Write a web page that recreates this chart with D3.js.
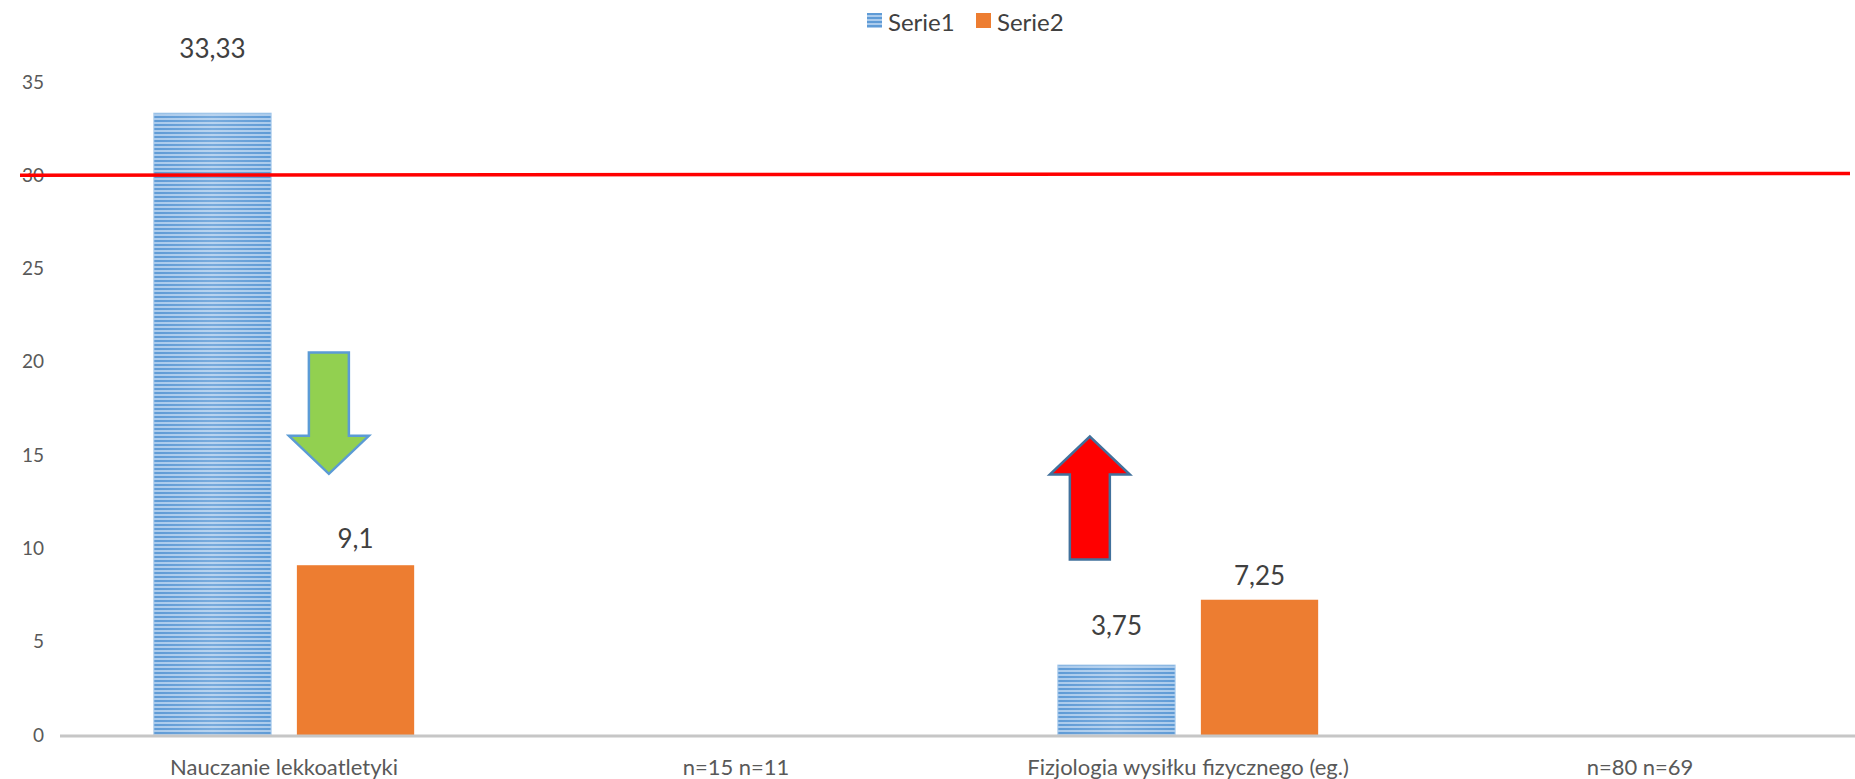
<!DOCTYPE html>
<html>
<head>
<meta charset="utf-8">
<script src="https://cdn.jsdelivr.net/npm/d3@7"></script>
<style>
    body { margin: 0; background: #fff; }
    svg { display: block; font-family: Lato, "Open Sans", sans-serif; }
</style>
</head>
<body>
<svg id="chart"></svg>
<script>
"use strict";

// Chart data
const categories = ["Nauczanie lekkoatletyki", "n=15 n=11", "Fizjologia wysiłku fizycznego (eg.)", "n=80 n=69"];
const seriesNames = ["Serie1", "Serie2"];
const serie1 = [33.33, null, 3.75, null];
const serie2 = [9.1, null, 7.25, null];
const yTicks = [0, 5, 10, 15, 20, 25, 30, 35];
const thresholdLine = [30, 30.1]; // red reference line, start and end value
// annotation arrows (value range, in axis units)
const arrows = [
    { category: "Nauczanie lekkoatletyki", serie: "Serie2", from: 20.5, to: 14.0, fill: "#92d050", stroke: "#5b9bd5" },
    { category: "Fizjologia wysiłku fizycznego (eg.)", serie: "Serie1", from: 9.4, to: 16.0, fill: "#ff0000", stroke: "#41719c" }
];

// Layout
const width = 1855;
const height = 779;
const margin = { top: 82, right: -11, bottom: 44, left: 58 };
const labelLift = { Serie1: [65, 0, 40, 0], Serie2: [27, 0, 25, 0] };
const colors = { Serie1: "url(#stripes)", Serie2: "#ed7d31" };

const svg = d3.select("#chart").attr("width", width).attr("height", height);

// striped fill for Serie1
const defs = svg.append("defs");
const pat = defs.append("pattern")
    .attr("id", "stripes")
    .attr("patternUnits", "userSpaceOnUse")
    .attr("width", 8).attr("height", 4);
pat.append("rect").attr("width", 8).attr("height", 4).attr("fill", "#abcbec");
pat.append("rect").attr("width", 8).attr("height", 2).attr("fill", "#5f9bd6");

const shade = defs.append("linearGradient").attr("id", "shade");
shade.append("stop").attr("offset", "0%").attr("stop-color", "#fff").attr("stop-opacity", 0.0);
shade.append("stop").attr("offset", "50%").attr("stop-color", "#fff").attr("stop-opacity", 0.15);
shade.append("stop").attr("offset", "100%").attr("stop-color", "#fff").attr("stop-opacity", 0.0);

// Scales
const x0 = d3.scaleBand()
    .domain(categories)
    .range([margin.left, width - margin.right]);

const x1 = d3.scaleBand()
    .domain(seriesNames)
    .range([0, x0.bandwidth()])
    .paddingInner(0.18)
    .paddingOuter(0.67);

const y = d3.scaleLinear()
    .domain([0, 35])
    .range([height - margin.bottom, margin.top]);

// Y axis labels only, no line
const yAxis = svg.append("g")
    .attr("transform", `translate(${margin.left - 14}, 0)`)
    .call(d3.axisLeft(y).tickValues(yTicks).tickSize(0).tickPadding(0));
yAxis.select(".domain").remove();
yAxis.selectAll("text")
    .attr("fill", "#595959")
    .style("font-size", "19px")
    .style("font-family", "Lato, sans-serif");

// Bars
const rows = categories.map((c, i) => ({ category: c, i: i, values: { Serie1: serie1[i], Serie2: serie2[i] } }));
const groups = svg.append("g").selectAll("g")
    .data(rows)
    .join("g")
    .attr("transform", d => `translate(${x0(d.category)}, 0)`);

const bars = groups.selectAll("g.bar")
    .data(d => seriesNames.filter(s => d.values[s] != null).map(s => ({ serie: s, value: d.values[s], i: d.i })))
    .join("g")
    .attr("class", "bar");

bars.append("rect")
    .attr("x", d => x1(d.serie))
    .attr("y", d => y(d.value))
    .attr("width", x1.bandwidth())
    .attr("height", d => y(0) - y(d.value))
    .attr("fill", d => colors[d.serie])
    .attr("stroke", d => d.serie === "Serie1" ? "#a9cbec" : "none")
    .attr("stroke-width", 1);

bars.filter(d => d.serie === "Serie1").append("rect")
    .attr("x", d => x1(d.serie))
    .attr("y", d => y(d.value))
    .attr("width", x1.bandwidth())
    .attr("height", d => y(0) - y(d.value))
    .attr("fill", "url(#shade)");

// value labels
const fmt = d3.formatLocale({ decimal: ",", thousands: " ", grouping: [3], currency: ["", ""] });
bars.append("text")
    .attr("x", d => x1(d.serie) + x1.bandwidth() / 2)
    .attr("y", d => y(d.value) - labelLift[d.serie][d.i])
    .attr("text-anchor", "middle")
    .attr("dominant-baseline", "central")
    .attr("fill", "#404040")
    .style("font-size", "26px")
    .text(d => fmt.format("~r")(d.value).replace(".", ","));

// X axis line
svg.append("line")
    .attr("x1", margin.left + 2)
    .attr("x2", width)
    .attr("y1", y(0) + 1)
    .attr("y2", y(0) + 1)
    .attr("stroke", "#c6c6c6")
    .attr("stroke-width", 3);

// category labels
svg.append("g").selectAll("text")
    .data(categories)
    .join("text")
    .attr("x", d => x0(d) + x0.bandwidth() / 2)
    .attr("y", y(0) + 31)
    .attr("text-anchor", "middle")
    .attr("dominant-baseline", "central")
    .attr("fill", "#595959")
    .style("font-size", "22px")
    .text(d => d);

// red reference line
svg.append("line")
    .attr("x1", 20)
    .attr("x2", width - 5)
    .attr("y1", y(thresholdLine[0]))
    .attr("y2", y(thresholdLine[1]))
    .attr("stroke", "#ff0000")
    .attr("stroke-width", 3.5);

// arrows
const shaftW = 40, headW = 80, headH = 38;
arrows.forEach(a => {
    const cx = x0(a.category) + x1(a.serie) + 32;
    const yTail = y(a.from), yTip = y(a.to);
    const dir = yTip > yTail ? 1 : -1;
    const yBase = yTip - dir * headH;
    const pts = [
        [cx - shaftW / 2, yTail], [cx + shaftW / 2, yTail], [cx + shaftW / 2, yBase],
        [cx + headW / 2, yBase], [cx, yTip], [cx - headW / 2, yBase], [cx - shaftW / 2, yBase]
    ];
    svg.append("path")
        .attr("d", d3.line()(pts) + "Z")
        .attr("fill", a.fill)
        .attr("stroke", a.stroke)
        .attr("stroke-width", 2.5)
        .attr("stroke-linejoin", "miter");
});

// Legend
const legend = svg.append("g").attr("transform", "translate(867, 13)");
const legendItems = legend.selectAll("g")
    .data(seriesNames)
    .join("g")
    .attr("transform", (d, i) => `translate(${i * 109}, 0)`);
legendItems.append("rect")
    .attr("width", 15).attr("height", 15)
    .attr("fill", d => colors[d]);
legendItems.append("text")
    .attr("x", 21)
    .attr("y", 8)
    .attr("dominant-baseline", "central")
    .attr("fill", "#404040")
    .style("font-size", "24px")
    .text(d => d);
</script>
</body>
</html>
